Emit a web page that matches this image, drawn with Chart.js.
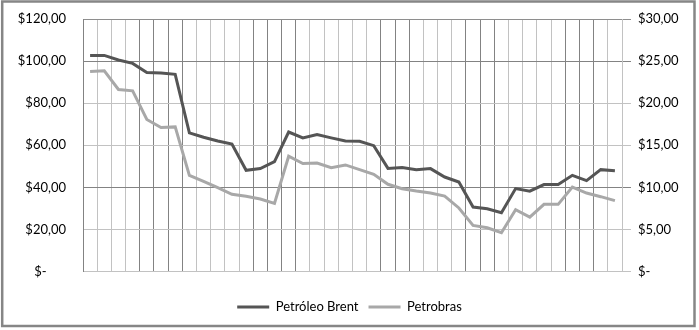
<!DOCTYPE html>
<html>
<head>
<meta charset="utf-8">
<script src="https://cdn.jsdelivr.net/npm/chart.js@4"></script>
<style>
  body { margin: 0; background: #fff; }
  canvas { display: block; }
</style>
</head>
<body>
<canvas id="grafico" width="699" height="330"></canvas>
<script>
// categorias (sin etiquetas visibles en el eje X)
const periodos = ['1','2','3','4','5','6','7','8','9','10','11','12','13','14','15','16','17','18','19',
                  '20','21','22','23','24','25','26','27','28','29','30','31','32','33','34','35','36','37','38'];

// Petróleo Brent (eje izquierdo, US$)
const brent = [102.7, 102.7, 100.5, 98.9, 94.6, 94.3, 93.7, 65.9, 63.8, 62.0,
               60.6, 48.1, 48.9, 52.2, 66.3, 63.5, 65.1, 63.5, 62.0, 61.9,
               59.8, 49.0, 49.4, 48.4, 48.9, 44.9, 42.5, 30.6, 29.8, 27.9,
               39.4, 38.2, 41.3, 41.3, 45.7, 43.2, 48.4, 47.9];

// Petrobras (eje derecho)
const petrobras = [23.77, 23.85, 21.63, 21.47, 18.06, 17.10, 17.18, 11.43, 10.71, 9.96,
                   9.17, 8.93, 8.61, 8.10, 13.69, 12.82, 12.89, 12.34, 12.66, 12.10,
                   11.55, 10.36, 9.84, 9.56, 9.32, 8.96, 7.55, 5.48, 5.20, 4.60,
                   7.34, 6.46, 7.98, 7.98, 10.04, 9.32, 8.89, 8.42];

// ejes
const ejeIzqMax = 120, ejeIzqPaso = 20;
const ejeDerMax = 30, ejeDerPaso = 5;

const OSCURO = '#838383';
const CLARO = '#c2c2c2';
// patrón de líneas verticales (oscuras / claras) como en la imagen
const patronX = 'D' + 'LLL' + 'DDDD' + 'LLLL' + 'DDDD' + 'LLLLL' + 'DDD' + 'LLL' + 'DDD' + 'LLLL' + 'DDD' + 'LL';
const patronY = [CLARO, CLARO, OSCURO, CLARO, CLARO, OSCURO, '#8e8e8e'];

const formato = v => v === 0 ? '$-' : '$' + v.toFixed(2).replace('.', ',');

// marco gris alrededor de todo el grafico
const marco = {
  id: 'marco',
  afterDraw(chart) {
    const c = chart.ctx;
    c.save();
    c.strokeStyle = '#868686';
    c.lineWidth = 2.5;
    c.strokeRect(2.2, 1.5, 692.3, 324.5);
    c.restore();
  }
};

const ctx = document.getElementById('grafico').getContext('2d');
Chart.defaults.font.family = 'Lato';
Chart.defaults.font.size = 13;
Chart.defaults.color = '#000';

new Chart(ctx, {
  type: 'line',
  data: {
    labels: periodos,
    datasets: [{
      label: 'Petróleo Brent',
      data: brent,
      borderColor: '#555555',
      backgroundColor: '#555555',
      borderWidth: 3,
      pointRadius: 0,
      tension: 0,
      yAxisID: 'y'
    }, {
      label: 'Petrobras',
      data: petrobras,
      borderColor: '#a8a8a8',
      backgroundColor: '#a8a8a8',
      borderWidth: 3,
      pointRadius: 0,
      tension: 0,
      yAxisID: 'y1'
    }]
  },
  options: {
    responsive: false,
    animation: false,
    layout: { padding: { top: 19, left: 0, right: 0, bottom: 6.5 } },
    plugins: {
      tooltip: { enabled: false },
      legend: {
        position: 'bottom',
        labels: {
          boxWidth: 32,
          boxHeight: 3,
          padding: 10,
          color: '#000',
          generateLabels(chart) {
            const items = Chart.defaults.plugins.legend.labels.generateLabels(chart);
            items.forEach(it => { it.fillStyle = it.strokeStyle; it.lineWidth = 0; });
            return items;
          }
        }
      }
    },
    scales: {
      x: {
        offset: true,
        ticks: { display: false },
        grid: {
          offset: true,
          drawTicks: false,
          lineWidth: 1,
          color: c => (c.index === undefined ? CLARO : (patronX[c.index] === 'D' ? OSCURO : CLARO))
        },
        border: { display: true, color: CLARO },
        afterFit(scale) { scale.height = 19; }
      },
      y: {
        position: 'left',
        min: 0,
        max: ejeIzqMax,
        ticks: {
          stepSize: ejeIzqPaso,
          padding: 0,
          callback: v => v === 0 ? '$-\u2002\u2002\u2002' : formato(v)
        },
        grid: {
          drawTicks: true,
          tickLength: 17,
          tickColor: 'rgba(0,0,0,0)',
          color: c => patronY[c.index] || CLARO
        },
        border: { display: true, color: OSCURO },
        afterFit(scale) { scale.width = 83; }
      },
      y1: {
        position: 'right',
        min: 0,
        max: ejeDerMax,
        ticks: {
          stepSize: ejeDerPaso,
          padding: 7,
          callback: v => formato(v)
        },
        grid: {
          drawOnChartArea: false,
          drawTicks: true,
          tickLength: 9,
          color: c => patronY[c.index] || CLARO
        },
        border: { display: true, color: CLARO },
        afterFit(scale) { scale.width = 77; }
      }
    }
  },
  plugins: [marco]
});
</script>
</body>
</html>
